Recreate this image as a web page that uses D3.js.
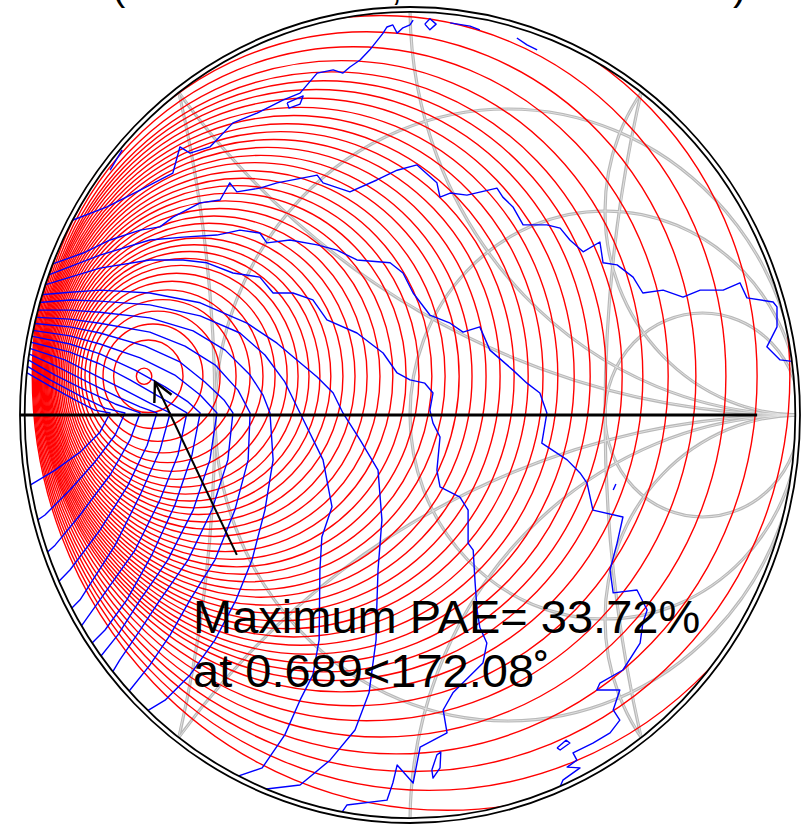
<!DOCTYPE html>
<html lang="en">
<head>
<meta charset="utf-8">
<script src="https://d3js.org/d3.v7.min.js"></script>
<style>
  body { margin: 0; background: #fff; }
  svg { display: block; }
  .lbl { font-family: "Liberation Sans", Arial, sans-serif; fill: #000; }
</style>
</head>
<body>
<script>
// ---------- data, all in the reflection-coefficient plane (re, im) ----------

// annotation: maximum PAE and where it sits
var paeMax = 33.72, paeMag = 0.689, paeAng = 172.08;

// PAE contours (red): where each one crosses the horizontal line through the optimum, right side
var paeRight = [-0.662, -0.582, -0.531, -0.487, -0.446, -0.410, -0.377, -0.346, -0.315, -0.287,
  -0.259, -0.231, -0.203, -0.172, -0.141, -0.110, -0.077, -0.044, -0.010, 0.023,
  0.056, 0.090, 0.126, 0.159, 0.195, 0.231, 0.267, 0.303, 0.341, 0.379,
  0.421, 0.462, 0.503, 0.544, 0.597, 0.662, 0.733, 0.810, 0.890, 0.974, 1.064, 1.159];
// the contours crowd towards the left rim: second pole of the circle family
var paePole = -1.36;

// Pout contours (blue), traced. Outer ones first.
var poutOuter = [
  [[-0.877,0.473],[-0.777,0.510],[-0.692,0.551],[-0.608,0.593],[-0.590,0.657],[-0.564,0.642],[-0.513,0.657],
   [-0.454,0.716],[-0.392,0.740],[-0.326,0.772],[-0.282,0.789],[-0.238,0.838],[-0.197,0.846],[-0.172,0.838],
   [-0.154,0.853],[-0.128,0.870],[-0.103,0.895],[-0.069,0.936],[-0.059,0.951],[-0.044,0.956],[-0.033,0.936],
   [-0.018,0.949],[0.000,0.956],[0.008,0.968]],
  [[-0.923,0.368],[-0.838,0.397],[-0.769,0.429],[-0.692,0.453],[-0.641,0.461],[-0.608,0.485],[-0.538,0.520],
   [-0.487,0.527],[-0.462,0.569],[-0.444,0.547],[-0.385,0.556],[-0.341,0.569],[-0.264,0.583],[-0.238,0.588],
   [-0.223,0.569],[-0.154,0.547],[-0.085,0.576],[-0.033,0.600],[0.018,0.613],[0.033,0.600],[0.069,0.569],
   [0.077,0.534],[0.103,0.544],[0.146,0.539],[0.223,0.556],[0.238,0.534],[0.264,0.510],[0.290,0.466],
   [0.351,0.466],[0.385,0.458],[0.410,0.429],[0.444,0.400],[0.487,0.424],[0.495,0.373],[0.531,0.368],
   [0.572,0.338],[0.597,0.299],[0.649,0.306],[0.700,0.289],[0.744,0.306],[0.803,0.306],[0.846,0.324],
   [0.864,0.287],[0.931,0.277],[0.941,0.265],[0.941,0.216],[0.915,0.167],[0.949,0.135],[0.992,0.130]],
  [[-0.928,0.343],[-0.795,0.392],[-0.667,0.429],[-0.582,0.436],[-0.495,0.441],[-0.436,0.453],[-0.385,0.446],
   [-0.367,0.422],[-0.308,0.429],[-0.238,0.417],[-0.187,0.404],[-0.136,0.380],[-0.051,0.373],[-0.018,0.348],
   [0.008,0.299],[0.051,0.245],[0.103,0.225],[0.136,0.203],[0.179,0.216],[0.205,0.159],[0.264,0.110],
   [0.300,0.078],[0.333,0.054],[0.351,0.005],[0.338,-0.069],[0.403,-0.110],[0.436,-0.142],[0.454,-0.167],
   [0.469,-0.233],[0.546,-0.250],[0.531,-0.314],[0.513,-0.380],[0.521,-0.436],[0.582,-0.429],[0.608,-0.478],
   [0.597,-0.510],[0.590,-0.559],[0.546,-0.625],[0.487,-0.657],[0.479,-0.674],[0.538,-0.674],[0.521,-0.723],
   [0.538,-0.748],[0.513,-0.779],[0.469,-0.804],[0.418,-0.828],[0.428,-0.846],[0.403,-0.863],[0.436,-0.865],
   [0.392,-0.895],[0.379,-0.924]],
  [[-0.936,0.319],[-0.795,0.360],[-0.667,0.380],[-0.582,0.380],[-0.521,0.373],[-0.454,0.348],[-0.385,0.338],
   [-0.351,0.299],[-0.300,0.299],[-0.249,0.282],[-0.213,0.233],[-0.136,0.201],[-0.069,0.152],[-0.033,0.103],
   [0.000,0.086],[0.038,0.078],[0.059,0.054],[0.051,0.012],[0.059,-0.020],[0.077,-0.054],[0.069,-0.135],
   [0.077,-0.176],[0.128,-0.201],[0.149,-0.233],[0.149,-0.314],[0.162,-0.331],[0.167,-0.412],[0.172,-0.478],
   [0.179,-0.520],[0.197,-0.559],[0.187,-0.608],[0.110,-0.681],[0.085,-0.723],[0.095,-0.779],[0.026,-0.814],
   [0.008,-0.902],[-0.033,-0.858],[-0.044,-0.902],[-0.059,-0.944],[-0.162,-0.956],[-0.179,-0.980]]
];
// inner Pout contours: they fan out of the rim near the optimum, cross the real axis, and fall back to the rim
var poutInner = [
  [[-0.954,0.294],[-0.872,0.301],[-0.795,0.306],[-0.667,0.299],[-0.538,0.275],[-0.418,0.225],[-0.341,0.176],
   [-0.290,0.135],[-0.238,0.093],[-0.197,0.054],[-0.172,0.005],[-0.128,-0.061],[-0.082,-0.135],[-0.072,-0.257],
   [-0.082,-0.380],[-0.085,-0.466],[-0.087,-0.551],[-0.105,-0.681],[-0.141,-0.772],[-0.205,-0.846],
   [-0.282,-0.907],[-0.390,-0.919]],
  [[-0.959,0.275],[-0.872,0.282],[-0.795,0.279],[-0.667,0.270],[-0.538,0.243],[-0.436,0.201],[-0.372,0.147],
   [-0.321,0.081],[-0.282,0.005],[-0.223,-0.110],[-0.200,-0.225],[-0.226,-0.299],[-0.231,-0.380],
   [-0.233,-0.551],[-0.249,-0.637],[-0.282,-0.699],[-0.321,-0.784],[-0.379,-0.865],[-0.456,-0.890]],
  [[-0.962,0.257],[-0.872,0.257],[-0.795,0.252],[-0.667,0.238],[-0.556,0.206],[-0.474,0.159],[-0.410,0.098],
   [-0.377,0.049],[-0.359,0.005],[-0.351,-0.110],[-0.372,-0.233],[-0.405,-0.355],[-0.446,-0.453],
   [-0.500,-0.551],[-0.564,-0.637],[-0.628,-0.699],[-0.679,-0.728]],
  [[-0.967,0.240],[-0.872,0.235],[-0.795,0.225],[-0.667,0.203],[-0.577,0.169],[-0.500,0.123],[-0.441,0.061],
   [-0.410,0.005],[-0.415,-0.110],[-0.449,-0.233],[-0.500,-0.355],[-0.564,-0.453],[-0.615,-0.539],
   [-0.667,-0.613],[-0.718,-0.674],[-0.728,-0.684]],
  [[-0.969,0.225],[-0.872,0.216],[-0.795,0.201],[-0.679,0.169],[-0.590,0.130],[-0.526,0.081],[-0.477,0.037],
   [-0.454,0.005],[-0.467,-0.110],[-0.508,-0.233],[-0.569,-0.355],[-0.641,-0.453],[-0.692,-0.527],
   [-0.744,-0.600],[-0.769,-0.640]],
  [[-0.972,0.208],[-0.872,0.194],[-0.795,0.174],[-0.692,0.140],[-0.603,0.098],[-0.538,0.049],[-0.495,0.005],
   [-0.513,-0.110],[-0.556,-0.233],[-0.621,-0.355],[-0.692,-0.453],[-0.749,-0.539],[-0.800,-0.600]],
  [[-0.974,0.194],[-0.872,0.174],[-0.795,0.150],[-0.705,0.110],[-0.628,0.069],[-0.569,0.032],[-0.538,0.005],
   [-0.559,-0.098],[-0.603,-0.221],[-0.662,-0.343],[-0.726,-0.453],[-0.782,-0.527],[-0.826,-0.569]],
  [[-0.974,0.179],[-0.872,0.154],[-0.795,0.125],[-0.718,0.086],[-0.641,0.044],[-0.572,0.005],[-0.595,-0.098],
   [-0.641,-0.208],[-0.705,-0.331],[-0.795,-0.453],[-0.841,-0.515],[-0.851,-0.527]],
  [[-0.977,0.164],[-0.885,0.135],[-0.808,0.098],[-0.731,0.061],[-0.667,0.029],[-0.615,0.005],[-0.641,-0.086],
   [-0.692,-0.196],[-0.756,-0.319],[-0.846,-0.453],[-0.877,-0.483]],
  [[-0.977,0.150],[-0.897,0.115],[-0.821,0.078],[-0.744,0.042],[-0.692,0.020],[-0.649,0.005],[-0.674,-0.074],
   [-0.723,-0.172],[-0.795,-0.282],[-0.872,-0.380],[-0.910,-0.417]],
  [[-0.979,0.135],[-0.910,0.098],[-0.833,0.061],[-0.756,0.027],[-0.692,0.005],[-0.718,-0.061],[-0.769,-0.147],
   [-0.846,-0.245],[-0.910,-0.319],[-0.938,-0.343]],
  [[-0.982,0.120],[-0.923,0.086],[-0.846,0.047],[-0.782,0.017],[-0.731,0.005],[-0.756,-0.049],[-0.808,-0.115],
   [-0.872,-0.184],[-0.936,-0.245],[-0.962,-0.262]],
  [[-0.985,0.105],[-0.923,0.071],[-0.859,0.037],[-0.808,0.012],[-0.769,0.005],[-0.795,-0.042],[-0.846,-0.091],
   [-0.910,-0.135],[-0.974,-0.172]]
];
// small islands of the Pout grid
var poutIslands = [
  [[0.038,0.958],[0.051,0.971],[0.067,0.958],[0.051,0.944],[0.038,0.958]],
  [[0.103,0.961],[0.154,0.953],[0.179,0.944]],
  [[0.274,0.924],[0.300,0.907],[0.326,0.895]],
  [[-0.315,0.765],[-0.274,0.782],[-0.282,0.762],[-0.310,0.752],[-0.315,0.765]],
  [[-0.769,0.600],[-0.738,0.650]],
  [[0.056,-0.870],[0.069,-0.833],[0.079,-0.826],[0.077,-0.865],[0.059,-0.890],[0.056,-0.870]],
  [[0.521,-0.184],[0.528,-0.169]],
  [[0.377,-0.816],[0.400,-0.797],[0.410,-0.804],[0.385,-0.821],[0.377,-0.816]]
];

// Smith chart grid
var rValues = [1 / 3, 1, 3];
var xValues = [0.5, 1, 2, -0.5, -1, -2];
var extraCircles = [[3.9, 3.4], [-3.9, 3.4]];   // [centre re, radius]
var axisEnd = 0.89;

// arrow: from the label up to the optimum
var arrowFrom = [-0.444, -0.343], arrowTo = [-0.654, 0.081];

// ---------- drawing ----------
var W = 809, H = 825;
var x = d3.scaleLinear().domain([-1, 1]).range([20, 800]);
var y = d3.scaleLinear().domain([-1, 1]).range([823, 7]);
var rx = function (r) { return x(r) - x(0); };
var ry = function (r) { return y(0) - y(r); };

var svg = d3.select("body").append("svg").attr("width", W).attr("height", H);

svg.append("defs").append("clipPath").attr("id", "inside")
  .append("ellipse")
  .attr("cx", x(0)).attr("cy", y(0)).attr("rx", rx(0.988)).attr("ry", ry(0.988));

var plot = svg.append("g").attr("clip-path", "url(#inside)");

// grid circles as [centre re, centre im, radius]
var grid = [];
rValues.forEach(function (r) { grid.push([r / (1 + r), 0, 1 / (1 + r)]); });
xValues.forEach(function (v) { grid.push([1, 1 / v, Math.abs(1 / v)]); });
extraCircles.forEach(function (c) { grid.push([c[0], 0, c[1]]); });

[["#b9b9b9", 3.2], ["#e4e4e4", 0.9]].forEach(function (st) {
  plot.append("g").selectAll("ellipse").data(grid).enter().append("ellipse")
    .attr("cx", function (d) { return x(d[0]); })
    .attr("cy", function (d) { return y(d[1]); })
    .attr("rx", function (d) { return rx(d[2]); })
    .attr("ry", function (d) { return ry(d[2]); })
    .attr("fill", "none").attr("stroke", st[0]).attr("stroke-width", st[1]);
});

// PAE contours: circles of the family with poles at the optimum and paePole
var ax = paeMag * Math.cos(paeAng * Math.PI / 180);
var ay = paeMag * Math.sin(paeAng * Math.PI / 180);
var paeCircles = paeRight.map(function (xr) {
  var k = (xr - ax) / (xr - paePole);
  var c = (ax - k * k * paePole) / (1 - k * k);
  var R = k * (ax - paePole) / (1 - k * k);
  return [c, ay, R];
});
plot.append("g").selectAll("ellipse").data(paeCircles).enter().append("ellipse")
  .attr("cx", function (d) { return x(d[0]); })
  .attr("cy", function (d) { return y(d[1]); })
  .attr("rx", function (d) { return rx(d[2]); })
  .attr("ry", function (d) { return ry(d[2]); })
  .attr("fill", "none").attr("stroke", "#ff0000").attr("stroke-width", 1.4);

// Pout contours
var line = d3.line().x(function (d) { return x(d[0]); }).y(function (d) { return y(d[1]); });
plot.append("g").selectAll("path").data(poutOuter.concat(poutInner, poutIslands)).enter().append("path")
  .attr("d", line)
  .attr("fill", "none").attr("stroke", "#0000ff").attr("stroke-width", 1.4)
  .attr("stroke-linejoin", "round");

// real axis
svg.append("line")
  .attr("x1", x(-1)).attr("y1", y(0)).attr("x2", x(axisEnd)).attr("y2", y(0))
  .attr("stroke", "#000").attr("stroke-width", 3);

// double outer rim
svg.selectAll(".rim").data([1, 0.988]).enter().append("ellipse")
  .attr("class", "rim")
  .attr("cx", x(0)).attr("cy", y(0))
  .attr("rx", function (d) { return rx(d); })
  .attr("ry", function (d) { return ry(d); })
  .attr("fill", "none").attr("stroke", "#000").attr("stroke-width", 1.8);

// arrow
var p0 = [x(arrowFrom[0]), y(arrowFrom[1])], p1 = [x(arrowTo[0]), y(arrowTo[1])];
var ang = Math.atan2(p0[1] - p1[1], p0[0] - p1[0]);
var head = 21, spread = 27 * Math.PI / 180;
svg.append("line")
  .attr("x1", p0[0]).attr("y1", p0[1]).attr("x2", p1[0]).attr("y2", p1[1])
  .attr("stroke", "#000").attr("stroke-width", 2);
svg.append("path")
  .attr("d", "M" + (p1[0] + head * Math.cos(ang - spread)) + "," + (p1[1] + head * Math.sin(ang - spread)) +
             "L" + p1[0] + "," + p1[1] +
             "L" + (p1[0] + head * Math.cos(ang + spread)) + "," + (p1[1] + head * Math.sin(ang + spread)))
  .attr("fill", "none").attr("stroke", "#000").attr("stroke-width", 2.4);

// annotation text
svg.append("text").attr("class", "lbl").attr("x", 193).attr("y", 633)
  .attr("font-size", 47).text("Maximum PAE= " + paeMax.toFixed(2) + "%");
svg.append("text").attr("class", "lbl").attr("x", 193).attr("y", 687)
  .attr("font-size", 47).text("at " + paeMag.toFixed(3) + "<" + paeAng.toFixed(2) + "\u02DA");

// title line, cut off by the top edge as in the source: only the descenders remain
[["(", 112], [",", 391], [")", 733]].forEach(function (t) {
  svg.append("text").attr("class", "lbl").attr("x", t[1]).attr("y", 0)
    .attr("font-size", 40).text(t[0]);
});
</script>
</body>
</html>
